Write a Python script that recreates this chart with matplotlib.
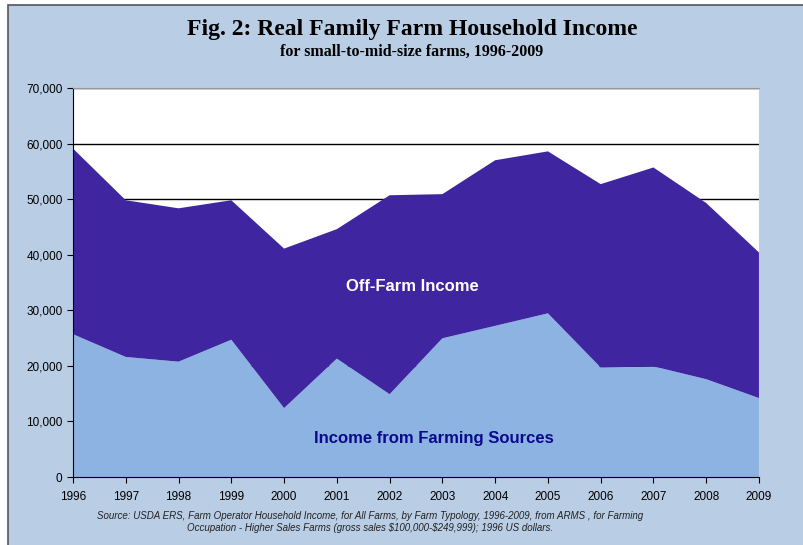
import matplotlib
matplotlib.use("Agg")
import matplotlib.pyplot as plt
from matplotlib.patches import Rectangle
from matplotlib.ticker import FuncFormatter

# values (1996 US dollars)
years = [1996, 1997, 1998, 1999, 2000, 2001, 2002, 2003, 2004, 2005, 2006, 2007, 2008, 2009]
farming = [25700, 21600, 20750, 24700, 12400, 21300, 14900, 24960, 27200, 29450, 19700, 19900, 17600, 14200]
off_farm = [33400, 28200, 27600, 25100, 28700, 23300, 35800, 25940, 29800, 29150, 33000, 35800, 31700, 26200]

bg = "#b9cde5"
light = "#8db3e2"
dark = "#3f26a0"

fig = plt.figure(figsize=(8.04, 5.45), dpi=100, facecolor="white")
fig.patches.append(Rectangle((8 / 804, -0.01), 1.0, 1 - 5 / 545 + 0.01, transform=fig.transFigure,
                             facecolor=bg, edgecolor="#555555", linewidth=1.2, zorder=-1))

ax = fig.add_axes([73 / 804, 1 - 477 / 545, (759 - 73) / 804, (477 - 88) / 545], zorder=1)
ax.set_facecolor("white")
ax.stackplot(years, farming, off_farm, colors=[light, dark], zorder=2)

ax.set_xlim(1996, 2009)
ax.set_ylim(0, 70000)
ax.set_xticks(years)
ax.set_yticks(range(0, 70001, 10000))
ax.yaxis.set_major_formatter(FuncFormatter(lambda v, p: f"{int(v):,}"))
ax.grid(axis="y", color="black", linewidth=1.0, zorder=1)
ax.set_axisbelow(True)
ax.tick_params(labelsize=8.5, length=4, direction="out", colors="black")
for lab in ax.get_xticklabels() + ax.get_yticklabels():
    lab.set_family("Liberation Sans")
ax.tick_params(axis="x", pad=6)
ax.spines["left"].set_color("black")
ax.spines["bottom"].set_color("black")
ax.spines["top"].set_color("#999999")
ax.spines["right"].set_color("#cccccc")
for s in ax.spines.values():
    s.set_zorder(3)

ax.text(0.494, 0.49, "Off-Farm Income", transform=ax.transAxes, ha="center", va="center",
        color="white", fontsize=12, fontweight="bold", family="Liberation Sans", zorder=4)
ax.text(0.526, 0.1, "Income from Farming Sources", transform=ax.transAxes, ha="center", va="center",
        color="#0a0a8c", fontsize=12, fontweight="bold", family="Liberation Sans", zorder=4)

fig.text(412 / 804, 1 - 30 / 545, "Fig. 2: Real Family Farm Household Income", ha="center", va="center",
         fontsize=17, fontweight="bold", family="Liberation Serif")
fig.text(412 / 804, 1 - 52 / 545, "for small-to-mid-size farms, 1996-2009", ha="center", va="center",
         fontsize=11.5, fontweight="bold", family="Liberation Serif")

fig.text(370 / 804, 1 - 522 / 545,
         "Source: USDA ERS, Farm Operator Household Income, for All Farms, by Farm Typology, 1996-2009, from ARMS , for Farming\n"
         "Occupation - Higher Sales Farms (gross sales \\$100,000-\\$249,999); 1996 US dollars.",
         ha="center", va="center", fontsize=7, style="italic", family="Liberation Sans",
         color="#222222", linespacing=1.3)

fig.savefig("out.png", dpi=100, facecolor=fig.get_facecolor())
